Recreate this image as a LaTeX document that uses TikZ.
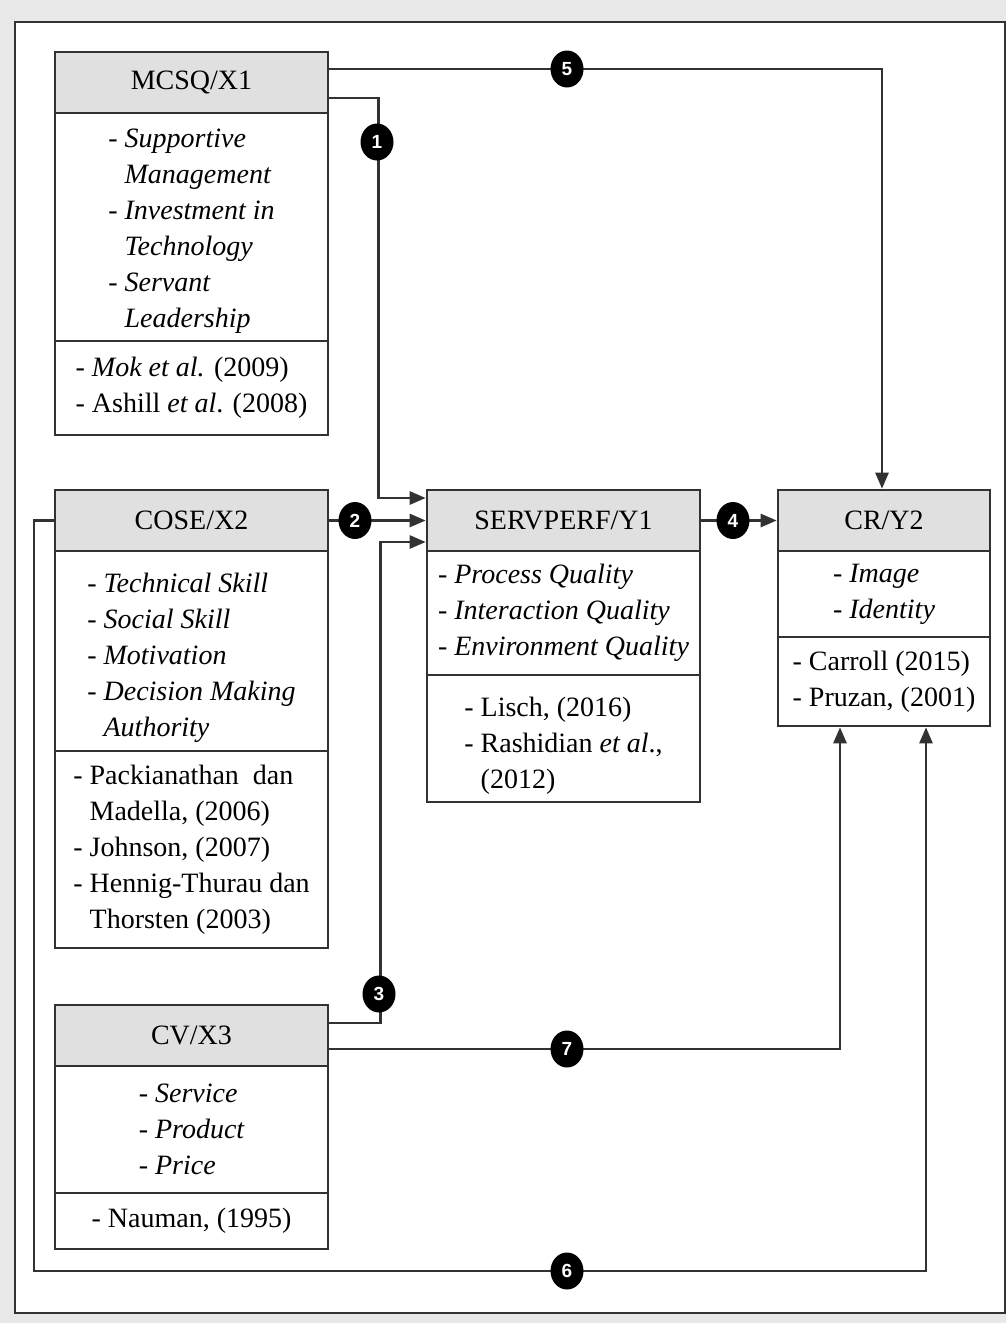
\documentclass[tikz,border=0pt]{standalone}
\usepackage{fontspec}
\setmainfont{Liberation Serif}
\newfontfamily\numfont{Liberation Sans}
\usetikzlibrary{arrows.meta,shapes.geometric}
\definecolor{linec}{RGB}{50,50,50}
\definecolor{hdrgray}{RGB}{224,224,224}
\definecolor{bggray}{RGB}{232,232,232}
\newcommand{\dsh}{\phantom{- }}
\newcommand{\lowr}{\rule{0pt}{33pt}}
\begin{document}
\begin{tikzpicture}[x=1pt,y=-1pt,
  boxbase/.style={draw=linec, line width=2.6pt, inner sep=0pt, align=left,
    font=\fontsize{28}{36}\selectfont},
  hdr/.style={boxbase, fill=hdrgray, minimum height=61pt},
  bodybox/.style={boxbase, fill=white, font=\fontsize{28}{36}\selectfont\itshape},
  refbox/.style={boxbase, fill=white},
  conn/.style={draw=linec, line width=2.6pt},
  arr/.style={-{Triangle[length=16pt,width=13pt]}},
  num/.style={ellipse, fill=black, text=white, minimum width=33pt, minimum height=37pt,
    inner sep=0pt, font=\numfont\bfseries\fontsize{19}{19}\selectfont}]
\useasboundingbox (0,0) rectangle (1006,1323);
\fill[bggray] (0,0) rectangle (1006,1323);
\draw[draw=linec, line width=2.2pt, fill=white] (15,22) rectangle (1005,1313);

% MCSQ
\node[hdr, minimum width=273pt] (mh) at (191.5,82.5) {MCSQ/X1};
\node[bodybox, minimum width=273pt, minimum height=228pt] (mb) at (191.5,227)
  {\rule{0pt}{26pt}- Supportive\\ \dsh Management\\ - Investment in\\ \dsh Technology\\ - Servant\\ \dsh Leadership};
\node[refbox, minimum width=273pt, minimum height=94pt] (mr) at (191.5,388)
  {- \textit{Mok et al.} (2009)\\ - Ashill \textit{et al}. (2008)};

% COSE
\node[hdr, minimum width=273pt] (ch) at (191.5,520.5) {COSE/X2};
\node[bodybox, minimum width=273pt, minimum height=200pt] (cb) at (191.5,651)
  {\lowr- Technical Skill\\ - Social Skill\\ - Motivation\\ - Decision Making\\ \dsh Authority};
\node[refbox, minimum width=273pt, minimum height=197pt] (cr) at (191.5,849.5)
  {- Packianathan~~dan\\ \dsh Madella, (2006)\\ - Johnson, (2007)\\ - Hennig-Thurau dan\\ \dsh Thorsten (2003)};

% CV
\node[hdr, minimum width=273pt] (vh) at (191.5,1035.5) {CV/X3};
\node[bodybox, minimum width=273pt, minimum height=127pt] (vb) at (191.5,1129.5)
  {- Service\\ - Product\\ - Price};
\node[refbox, minimum width=273pt, minimum height=56pt] (vr) at (191.5,1221)
  {- Nauman, (1995)};

% SERVPERF
\node[hdr, minimum width=273pt] (sh) at (563.5,520.5) {SERVPERF/Y1};
\node[bodybox, minimum width=273pt, minimum height=124pt] (sb) at (563.5,613)
  {- Process Quality\\ - Interaction Quality\\ - Environment Quality};
\node[refbox, minimum width=273pt, minimum height=127pt] (sr) at (563.5,738.5)
  {\lowr- Lisch, (2016)\\ - Rashidian \textit{et al}.,\\ \dsh (2012)};

% CR
\node[hdr, minimum width=212pt] (crh) at (884,520.5) {CR/Y2};
\node[bodybox, minimum width=212pt, minimum height=86pt] (crb) at (884,594)
  {- Image\\ - Identity};
\node[refbox, minimum width=212pt, minimum height=89pt] (crr) at (884,681.5)
  {- Carroll (2015)\\ - Pruzan, (2001)};

% connectors
\draw[conn,arr] ([yshift=13.5pt]mh.east) -| ([xshift=-2pt]crh.north);
\draw[conn,arr] ([yshift=-15.5pt]mh.east) -- ++(49,0) |- ([yshift=22.5pt]sh.west);
\draw[conn,arr] (ch.east) -- (sh.west);
\draw[conn,arr] ([yshift=12.5pt]vh.east) -- ++(51,0) |- ([yshift=-21.5pt]sh.west);
\draw[conn,arr] (sh.east) -- (crh.west);
\draw[conn,arr] ([yshift=-13.5pt]vh.east) -| ([xshift=-44pt]crr.south);
\coordinate (c6a) at (34,520.5);
\coordinate (c6b) at (34,1271);
\draw[conn,arr] (ch.west) -- (c6a) -- (c6b) -| ([xshift=42pt]crr.south);

% numbers
\node[num] (n1) at (377,142) {1};
\node[num] (n2) at (355,520.5) {2};
\node[num] (n3) at (379,994) {3};
\node[num] (n4) at (733,520.5) {4};
\node[num] (n5) at (567,69) {5};
\node[num] (n6) at (567,1271) {6};
\node[num] (n7) at (567,1049) {7};
\end{tikzpicture}
\end{document}
